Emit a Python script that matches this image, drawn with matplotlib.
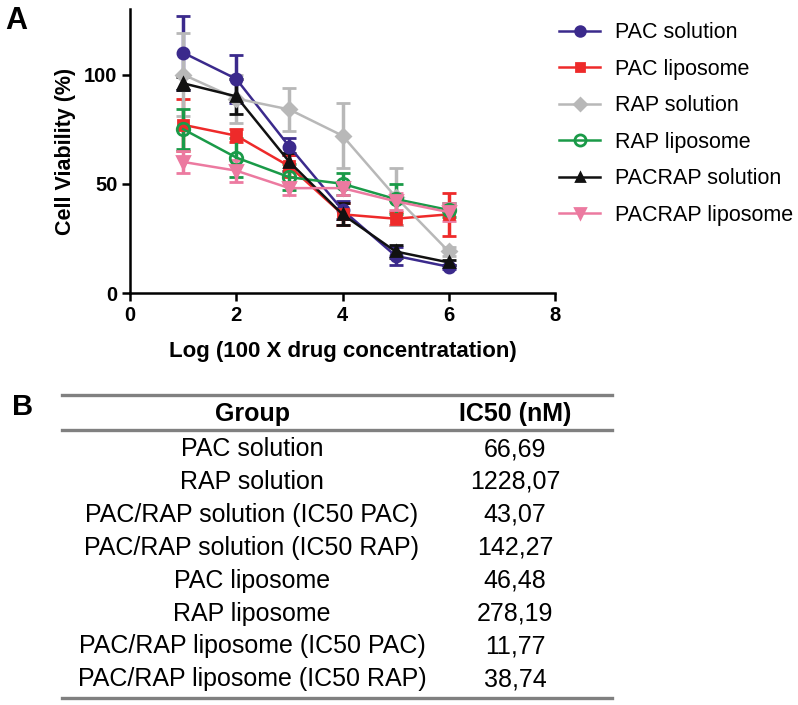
import matplotlib
matplotlib.use("Agg")
import matplotlib.pyplot as plt
from matplotlib.lines import Line2D

plt.rcParams['font.family'] = ['Liberation Sans', 'DejaVu Sans']

# ---- data ----
log_conc = [1, 2, 3, 4, 5, 6]
series_names = ["PAC solution", "PAC liposome", "RAP solution",
                "RAP liposome", "PACRAP solution", "PACRAP liposome"]
pac_solution = [110, 98, 67, 38, 17, 12]
pac_solution_err = [17, 11, 4, 4, 4, 1]
pac_liposome = [77, 72, 58, 36, 34, 36]
pac_liposome_err = [12, 3, 5, 5, 3, 10]
rap_solution = [100, 89, 84, 72, 44, 19]
rap_solution_err = [19, 11, 10, 15, 13, 2]
rap_liposome = [75, 62, 53, 50, 43, 38]
rap_liposome_err = [9, 9, 6, 5, 7, 3]
pacrap_solution = [96, 90, 60, 36, 19, 14]
pacrap_solution_err = [3, 8, 4, 5, 3, 1]
pacrap_liposome = [60, 56, 48, 48, 42, 37]
pacrap_liposome_err = [5, 5, 3, 3, 4, 4]

x_ticks = [0, 2, 4, 6, 8]
y_ticks = [0, 50, 100]

table_groups = ["PAC solution", "RAP solution", "PAC/RAP solution (IC50 PAC)",
                "PAC/RAP solution (IC50 RAP)", "PAC liposome", "RAP liposome",
                "PAC/RAP liposome (IC50 PAC)", "PAC/RAP liposome (IC50 RAP)"]
table_ic50 = ["66,69", "1228,07", "43,07", "142,27", "46,48", "278,19", "11,77", "38,74"]

values = [pac_solution, pac_liposome, rap_solution, rap_liposome, pacrap_solution, pacrap_liposome]
errors = [pac_solution_err, pac_liposome_err, rap_solution_err, rap_liposome_err,
          pacrap_solution_err, pacrap_liposome_err]
colors = ["#3b2a8c", "#ee2a2a", "#b8b8b8", "#1a9a48", "#111111", "#ec7aa0"]
markers = ["o", "s", "D", "o", "^", "v"]
mfc = ["#3b2a8c", "#ee2a2a", "#b8b8b8", "none", "#111111", "#ec7aa0"]
msizes = [8, 7, 7, 9, 7, 8]

W, H = 798, 705
fig = plt.figure(figsize=(W / 100, H / 100), dpi=100)
ax = fig.add_axes([130 / W, 1 - 293 / H, (555 - 130) / W, (293 - 9) / H])

for vals, err, c, m, fc, ms in zip(values, errors, colors, markers, mfc, msizes):
    ax.errorbar(log_conc, vals, yerr=err, color=c, marker=m, markerfacecolor=fc,
                markeredgecolor=c, markeredgewidth=2, markersize=ms, lw=1.8,
                elinewidth=2.5, capsize=5, capthick=2.5)

ax.set_xlim(0, 8)
ax.set_ylim(0, 130)
ax.set_xticks(x_ticks)
ax.set_yticks(y_ticks)
for s in ["top", "right"]:
    ax.spines[s].set_visible(False)
for s in ["left", "bottom"]:
    ax.spines[s].set_linewidth(1.8)
ax.tick_params(width=1.8, length=6, labelsize=14.5, pad=3)
for lab in ax.get_xticklabels() + ax.get_yticklabels():
    lab.set_fontweight("bold")
ax.set_ylabel("Cell Viability (%)", fontsize=15.5, fontweight="bold", labelpad=6)
ax.set_xlabel("Log (100 X drug concentratation)", fontsize=16, fontweight="bold", labelpad=12)

handles = [Line2D([0], [0], color=c, marker=m, markerfacecolor=fc, markeredgecolor=c,
                  markeredgewidth=2, markersize=ms - 1, lw=1.8)
           for c, m, fc, ms in zip(colors, markers, mfc, msizes)]
fig.legend(handles, series_names, loc="upper left", bbox_to_anchor=(540 / W, 1 - 3 / H),
           frameon=False, fontsize=15.5, handlelength=1.9, labelspacing=0.72, handletextpad=0.7)

fig.text(5 / W, 1 - 21 / H, "A", fontsize=22, fontweight="bold", va="center", ha="left")
fig.text(12 / W, 1 - 407 / H, "B", fontsize=21, fontweight="bold", va="center", ha="left")

# ---- table ----
x0, x1 = 62 / W, 612 / W
for yl in [395, 430, 698]:
    fig.add_artist(Line2D([x0, x1], [1 - yl / H, 1 - yl / H], color="#808080", lw=2.4))
col_g, col_v = 252 / W, 515 / W
fig.text(col_g, 1 - 414 / H, "Group", fontsize=18, fontweight="bold", ha="center", va="center")
fig.text(col_v, 1 - 414 / H, "IC50 (nM)", fontsize=18, fontweight="bold", ha="center", va="center")
row_y0, row_dy = 449, 32.9
for i, (g, v) in enumerate(zip(table_groups, table_ic50)):
    yy = 1 - (row_y0 + i * row_dy) / H
    fig.text(col_g, yy, g, fontsize=18, ha="center", va="center")
    fig.text(col_v, yy, v, fontsize=18, ha="center", va="center")

fig.savefig("out.png", dpi=100)
